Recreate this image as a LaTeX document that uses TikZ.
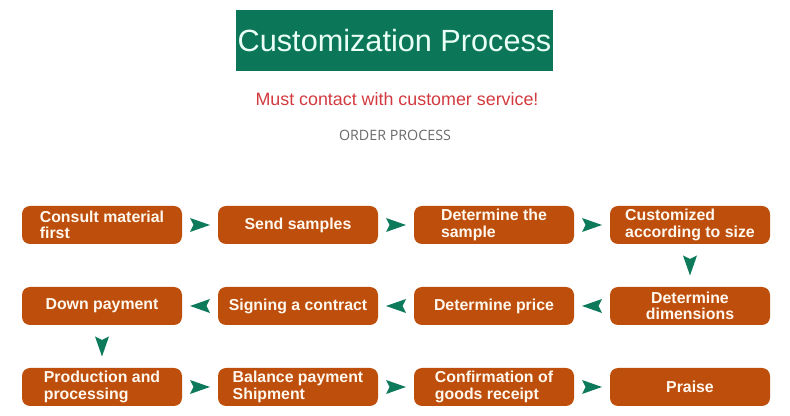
\documentclass[tikz,border=0pt]{standalone}
\usepackage{fontspec}
\setmainfont{Liberation Sans}
\newfontfamily\opensans{Open Sans}
\usetikzlibrary{calc}
\definecolor{titlegreen}{HTML}{0B7758}
\definecolor{arrowgreen}{HTML}{0E7A5C}
\definecolor{boxorange}{HTML}{BE4E0C}
\definecolor{warnred}{HTML}{D23A40}
\definecolor{greytext}{HTML}{6A6A6A}
\definecolor{boxtext}{HTML}{FFF8EE}
\definecolor{titletext}{HTML}{EAFFF6}
\tikzset{
  stepbox/.style={fill=boxorange, rounded corners=6pt, minimum width=120pt, minimum height=28.5pt,
    text=boxtext, font=\fontsize{11.9}{12.2}\selectfont\bfseries, inner sep=2pt},
  harr/.pic={\fill[arrowgreen] (10,0) -- (-10,7) -- (-6.5,0) -- (-10,-7) -- cycle;},
}
\begin{document}
\begin{tikzpicture}[x=0.75pt,y=-0.75pt]
\useasboundingbox (0,0) rectangle (790,416);
\node[fill=titlegreen, minimum width=238pt, minimum height=45.5pt, inner sep=0pt,
  text=titletext, font=\fontsize{23}{26}\selectfont] (title) at (394.5,40.5) {Customization Process};
\node[text=warnred, font=\fontsize{13.4}{15}\selectfont] (warn) at (397,99) {Must contact with customer service!};
\node[text=greytext, font=\opensans\fontsize{10.7}{12}\selectfont] (order) at (395,135) {ORDER PROCESS};

\node[stepbox, align=left] (c1) at (102,225) {Consult material\\first};
\node[stepbox] (c2) at (298,225) {Send samples};
\node[stepbox, align=left] (c3) at (494,225) {Determine the\\sample};
\node[stepbox, align=left] (c4) at (690,225) {Customized\\according to size};

\node[stepbox, align=center] (c5) at (690,306) {Determine\\dimensions};
\node[stepbox] (c6) at (494,306) {Determine price};
\node[stepbox] (c7) at (298,306) {Signing a contract};
\node[stepbox] (c8) at (102,306) {Down payment};

\node[stepbox, align=left] (c9) at (102,387) {Production and\\processing};
\node[stepbox, align=left] (c10) at (298,387) {Balance payment\\Shipment};
\node[stepbox, align=left] (c11) at (494,387) {Confirmation of\\goods receipt};
\node[stepbox] (c12) at (690,387) {Praise};

\path (c1.east) -- pic[pos=0.5, sloped, allow upside down]{harr} (c2.west);
\path (c2.east) -- pic[pos=0.5, sloped, allow upside down]{harr} (c3.west);
\path (c3.east) -- pic[pos=0.5, sloped, allow upside down]{harr} (c4.west);
\path (c4.south) -- pic[pos=0.5, sloped, allow upside down]{harr} (c5.north);
\path (c5.west) -- pic[pos=0.5, sloped, allow upside down]{harr} (c6.east);
\path (c6.west) -- pic[pos=0.5, sloped, allow upside down]{harr} (c7.east);
\path (c7.west) -- pic[pos=0.5, sloped, allow upside down]{harr} (c8.east);
\path (c8.south) -- pic[pos=0.5, sloped, allow upside down]{harr} (c9.north);
\path (c9.east) -- pic[pos=0.5, sloped, allow upside down]{harr} (c10.west);
\path (c10.east) -- pic[pos=0.5, sloped, allow upside down]{harr} (c11.west);
\path (c11.east) -- pic[pos=0.5, sloped, allow upside down]{harr} (c12.west);
\end{tikzpicture}
\end{document}
